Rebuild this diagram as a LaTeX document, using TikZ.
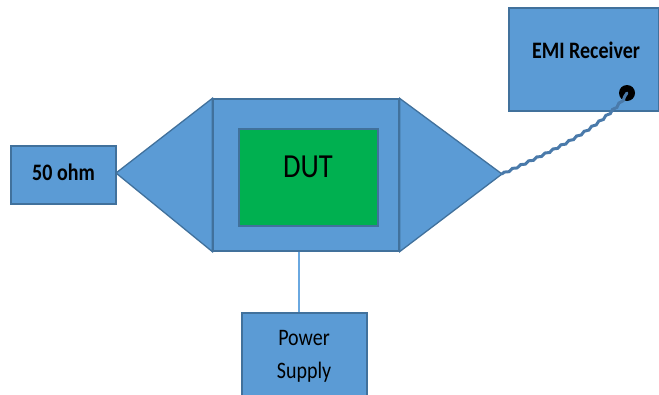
\documentclass[tikz,border=0pt]{standalone}
\usepackage{fontspec}
\usepackage{graphicx}
\setmainfont{Carlito}
\usetikzlibrary{decorations.pathmorphing}
\definecolor{boxblue}{HTML}{5B9BD5}
\definecolor{edgeblue}{HTML}{41719C}
\definecolor{dutgreen}{HTML}{00B050}
\definecolor{cableblue}{HTML}{4A7AAA}
\definecolor{wireblue}{HTML}{6AA8E0}
\newcommand{\tallt}[1]{\scalebox{1}[1.18]{#1}}
\tikzset{
  bluebox/.style={draw=edgeblue, fill=boxblue, line width=1.3pt, inner sep=0pt, anchor=center},
  lbl/.style={font=\fontsize{20}{24}\selectfont, text=black},
}
\begin{document}
\begin{tikzpicture}[x=1pt,y=-1pt]
\useasboundingbox (0,0) rectangle (659,394);
% main box (coaxial TEM cell)
\node[bluebox, minimum width=186pt, minimum height=152pt] (cell) at (306,175) {};
\coordinate (ltip) at (116,173);
\coordinate (rtip) at (502,174);
% tapers
\filldraw[draw=edgeblue, fill=boxblue, line width=1.3pt, line join=miter]
  (ltip) -- (cell.north west) -- (cell.south west) -- cycle;
\filldraw[draw=edgeblue, fill=boxblue, line width=1.3pt, line join=miter]
  (rtip) -- (cell.north east) -- (cell.south east) -- cycle;
% DUT
\node[draw=edgeblue, fill=dutgreen, line width=1.3pt, minimum width=139pt, minimum height=97pt] (dut) at (308.5,177.5) {};
\node[font=\fontsize{28.5}{32}\selectfont] (dutl) at (308,167) {\tallt{DUT}};
% 50 ohm
\node[bluebox, minimum width=105pt, minimum height=58pt] (ohm) at (63.5,175) {};
\node[lbl, font=\fontsize{20}{24}\selectfont\bfseries] (ohml) at (63.5,172) {\tallt{50 ohm}};
% EMI receiver
\node[bluebox, minimum width=150pt, minimum height=103pt] (emi) at (584,59.5) {};
\node[lbl, font=\fontsize{20}{24}\selectfont\bfseries] (emil) at (586,50) {\tallt{EMI Receiver}};
\node[circle, fill=black, minimum size=16pt, inner sep=0pt] (port) at (627,93) {};
% cable
\draw[cableblue, line width=3pt, line cap=round,
      decorate, decoration={snake, amplitude=0.8pt, segment length=9pt}]
  (rtip) .. controls (550,152) and (600,130) .. (port.center);
% power supply
\node[bluebox, minimum width=125pt, minimum height=95pt] (ps) at (304.5,360.5) {};
\node[lbl] (psl1) at (304,338) {\tallt{Power}};
\node[lbl] (psl2) at (304,372) {\tallt{Supply}};
\draw[wireblue, line width=2pt] (cell.south -| 299,0) -- (ps.north -| 299,0);
\end{tikzpicture}
\end{document}
